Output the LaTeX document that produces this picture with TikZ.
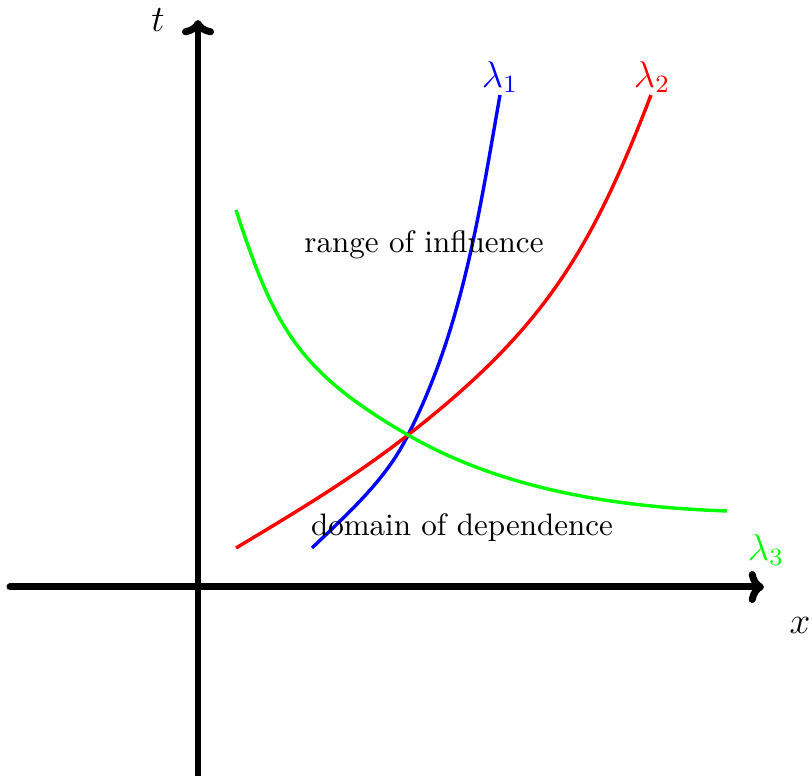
\documentclass[tikz,border=0pt]{standalone}
\usetikzlibrary{arrows.meta}
\begin{document}
\begin{tikzpicture}[x=0.322pt,y=0.322pt,
  axis/.style={line width=2.25pt,-{To[round,scale=0.75]},line cap=round},
  curve/.style={line width=1.1pt},
  lab/.style={inner sep=0pt,font=\large}]
\useasboundingbox (0,0) rectangle (812,776);
% axes
\coordinate (xs) at (10,189);
\coordinate (xe) at (764,189);
\coordinate (ts) at (198,0);
\coordinate (te) at (198,756);
\draw[axis] (xs) -- (xe);
\draw[axis] (ts) -- (te);
\node[lab] (tl) at (158,756) {$t$};
\node[lab] (xl) at (800,151) {$x$};
% intersection
\coordinate (m) at (408,341);
% blue
\coordinate (b0) at (312,228);
\coordinate (b1) at (500,681);
\draw[curve,blue] (b0) .. controls (348,262.7) and (386.1,296.1) .. (m)
  .. controls (462.5,447.9) and (479.2,562.8) .. (b1);
% red
\coordinate (r0) at (236,228);
\coordinate (r1) at (651,681);
\draw[curve,red] (r0) .. controls (296,264) and (352.8,297.9) .. (m)
  .. controls (542,445.7) and (590.1,522.3) .. (r1);
% green
\coordinate (g0) at (236,566);
\coordinate (g1) at (727,265);
\draw[curve,green] (g0) .. controls (274.6,447.1) and (299.7,403.5) .. (m)
  .. controls (503.3,286) and (617,268.8) .. (g1);
% labels
\node[lab,blue] (l1) at (500,699) {$\lambda_1$};
\node[lab,red] (l2) at (652,699) {$\lambda_2$};
\node[lab,green] (l3) at (766,226) {$\lambda_3$};
\node (roi) at (424,531) {range of influence};
\node (dod) at (462,248) {domain of dependence};
\end{tikzpicture}
\end{document}
